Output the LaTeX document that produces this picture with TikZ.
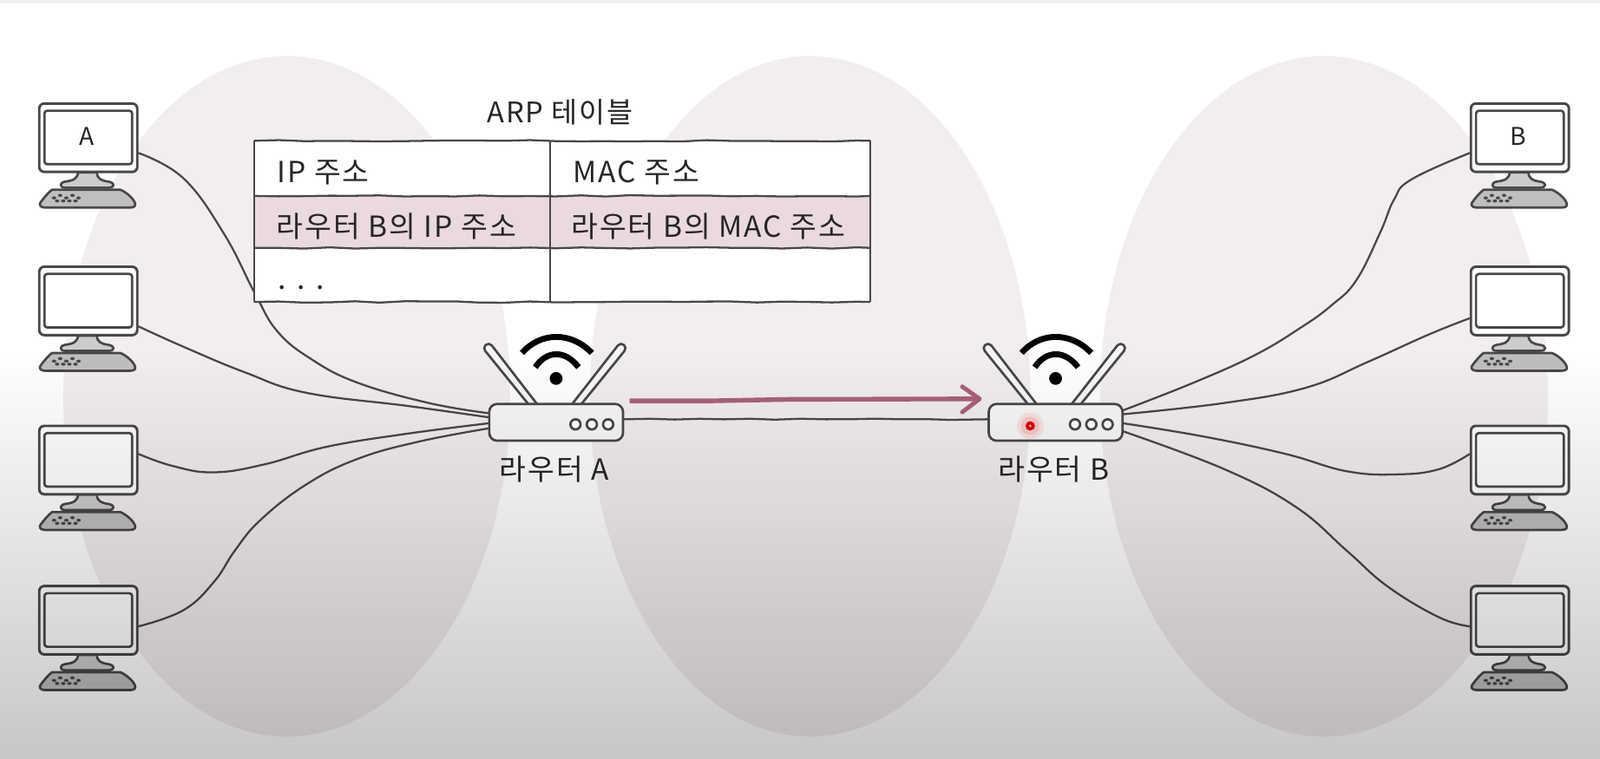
\documentclass[tikz,border=0pt]{standalone}
\usepackage{fontspec}
\setmainfont[LetterSpace=6]{Noto Sans CJK KR}
\usetikzlibrary{decorations.pathmorphing,calc}
\definecolor{ink}{HTML}{484848}
\definecolor{blob}{HTML}{F2EDEF}
\definecolor{rowpink}{HTML}{EAD9DD}
\definecolor{arrowc}{HTML}{A9627A}
\tikzset{
  wob/.style={decorate,decoration={random steps,segment length=7pt,amplitude=0.2pt}},
  wire/.style={draw=ink,line width=0.55pt,line join=round,line cap=round},
  pcbox/.style={draw=ink,line width=0.7pt,fill=white,rounded corners=1.4pt,inner sep=0pt,minimum width=0.96cm,minimum height=0.67cm},
  pcline/.style={draw=ink,line width=0.65pt,line join=round},
  routerbox/.style={draw=ink,line width=0.65pt,fill=white!97!black,rounded corners=2.2pt,inner sep=0pt,minimum width=1.31cm,minimum height=0.36cm},
  lab/.style={inner sep=0pt,text=black!85,font=\fontsize{8.1}{10}\selectfont},
  cell/.style={lab,anchor=west},
  tline/.style={draw=ink,line width=0.55pt,wob},
  tvline/.style={draw=ink,line width=0.5pt},
}
\newcommand{\pcat}[4]{% name, x, y(top), label
  \begin{scope}[shift={(#2,#3)}]
    \node[pcbox] (#1) at (48.5,34) {};
    \draw[pcline,fill=white,rounded corners=0.8pt] (5.5,7.5) rectangle (91.5,60);
    \draw[pcline,fill=black!20] (38.5,68) .. controls (38,74) and (34,76) .. (26,77) .. controls (20,78) and (20,83) .. (26,83)
       -- (68,83) .. controls (75,83) and (75,78) .. (68,77) .. controls (61,76) and (57,74) .. (57,68) -- cycle;
    \draw[pcline,fill=black!25] (13,85) -- (80,85) .. controls (87,88) and (94,95) .. (94.5,99) .. controls (95,102) and (92,102.5) .. (88,102.5)
       -- (6,102.5) .. controls (1,102.5) and (0,99) .. (2,97) .. controls (5,93) and (9,88) .. (13,85) -- cycle;
    \foreach \q/\r in {15/93,21/90.5,27/93,33/90.5,39/93,18/96,24/96,30/96,36/96}
      \fill[ink] (\q,\r) ellipse (2.2 and 1.5);
    \node[lab,font=\fontsize{6.8}{8}\selectfont] at (47,33) {#4};
  \end{scope}}
\newcommand{\routerat}[3]{% name, xoffset, label
  \begin{scope}[shift={(#2,0)}]
    \draw[pcline,fill=white!97!black] (518.5,397) -- (475.5,344) arc[start angle=140,end angle=320,radius=4.2] -- (527,397);
    \draw[pcline,fill=white!97!black] (569,397) -- (612,344) arc[start angle=40,end angle=-140,radius=4.2] -- (560,397);
    \node[routerbox] (#1) at (545,414) {};
    \foreach \cx in {564,580,596} \draw[pcline,fill=white] (\cx,416) circle (5);
    \fill[black] (545,371) circle (6.3);
    \draw[black,line width=1.65pt] (524.6,360) .. controls (536,343) and (554,343) .. (567,360);
    \draw[black,line width=1.65pt] (511.6,346) .. controls (530,325) and (560,325) .. (580,346);
    \node[lab] at (543,460) {#3};
  \end{scope}}
\begin{document}
\begin{tikzpicture}[x=0.01cm,y=-0.01cm]
\useasboundingbox (0,0) rectangle (1568,743.2);
\fill[white] (0,0) rectangle (1568,743.2);
\fill[black!6] (0,0) rectangle (1568,3);
% blobs
\fill[blob] (281,388.5) ellipse (219 and 333.5);
\fill[blob] (794,388.5) ellipse (216 and 333.5);
\fill[blob] (1297.5,388.5) ellipse (219.5 and 333.5);
% devices
\pcat{pcA}{38}{101}{A}
\pcat{pcB}{38}{261}{}
\pcat{pcC}{38}{417}{}
\pcat{pcD}{38}{574}{}
\pcat{pcE}{1441}{101}{B}
\pcat{pcF}{1441}{261}{}
\pcat{pcG}{1441}{417}{}
\pcat{pcH}{1441}{574}{}
\routerat{rA}{0}{라우터 A}
\routerat{rB}{489.5}{라우터 B}
\fill[red!70!white,opacity=.12] (1009.6,417.5) circle (13);
\fill[red!70!white,opacity=.18] (1009.6,417.5) circle (9);
\fill[red!85!black] (1009.6,417.5) circle (4.6);
\fill[white!70!red] (1009.6,417.5) circle (1.4);
% wires
\draw[wire] plot[smooth,tension=.7] coordinates {($(pcA.east)+(0,15)$) (180,175) (220,230) (250,288) (272,325) (305,352) (350,375) (420,395) ($(rA.west)+(0,-9)$)};
\draw[wire] plot[smooth,tension=.7] coordinates {($(pcB.east)+(0,25)$) (180,340) (240,365) (300,385) (400,398) ($(rA.west)+(0,-5)$)};
\draw[wire] plot[smooth,tension=.7] coordinates {($(pcC.east)+(0,-6)$) (170,457) (210,463) (260,455) (320,438) (400,425) ($(rA.west)+(0,1)$)};
\draw[wire] plot[smooth,tension=.7] coordinates {($(pcD.east)+(0,6)$) (180,598) (210,570) (230,540) (255,510) (300,475) (350,450) (410,433) ($(rA.west)+(0,6)$)};
\draw[wire] plot[smooth,tension=.7] coordinates {($(pcE.west)+(0,15)$) (1383,176) (1366,196) (1353,227) (1329,275) (1304,300) (1275,321) (1230,348) (1170,375) ($(rB.east)+(0,-12)$)};
\draw[wire] plot[smooth,tension=.7] coordinates {($(pcF.west)+(0,17)$) (1400,328) (1340,355) (1280,380) (1200,395) ($(rB.east)+(0,-8)$)};
\draw[wire] plot[smooth,tension=.7] coordinates {($(pcG.west)+(0,-6)$) (1410,460) (1370,465) (1320,462) (1260,445) (1180,428) ($(rB.east)+(0,1)$)};
\draw[wire] plot[smooth,tension=.7] coordinates {($(pcH.west)+(0,6)$) (1410,605) (1360,575) (1320,540) (1270,497) (1200,460) ($(rB.east)+(0,9)$)};
\draw[wire,wob] ($(rA.east)+(0,-3)$) -- ($(rB.west)+(0,-3)$);
% arrow
\coordinate (arS) at (617,393);
\coordinate (arE) at (960,391);
\draw[draw=arrowc,line width=1.3pt,decorate,decoration={random steps,segment length=22pt,amplitude=0.35pt}] (arS) -- (arE);
\draw[draw=arrowc,line width=1.2pt,line cap=round,line join=round] (943,379) -- (960,391) -- (943,404);
% table
\node[lab,font=\fontsize{7.9}{10}\selectfont] (ttl) at (549,110) {ARP 테이블};
\fill[white] (249,138) rectangle (853,296);
\fill[rowpink] (249,192) rectangle (853,243);
\draw[tline] (249,138) -- (853,138);
\draw[tline] (249,192) -- (853,192);
\draw[tline] (249,243) -- (853,243);
\draw[tline] (249,296) -- (853,296);
\draw[tvline] (249,138) -- (249,296);
\draw[tvline] (853,138) -- (853,296);
\draw[tvline] (539,138) -- (539,296);
\node[cell] (c1) at (271,169) {IP 주소};
\node[cell] (c2) at (561,169) {MAC 주소};
\node[cell] (c3) at (270,222) {라우터 B의 IP 주소};
\node[cell] (c4) at (559,222) {라우터 B의 MAC 주소};
\node[cell] (c5) at (272,282) {. . .};
% bottom darkening over everything
\foreach \i in {0,...,79}{
  \pgfmathsetmacro{\yy}{340+\i*5.05}
  \pgfmathsetmacro{\op}{0.22*(\i+0.5)/80}
  \fill[black,fill opacity=\op] (0,\yy) rectangle (1568,\yy+5.05);
}
\end{tikzpicture}
\end{document}
